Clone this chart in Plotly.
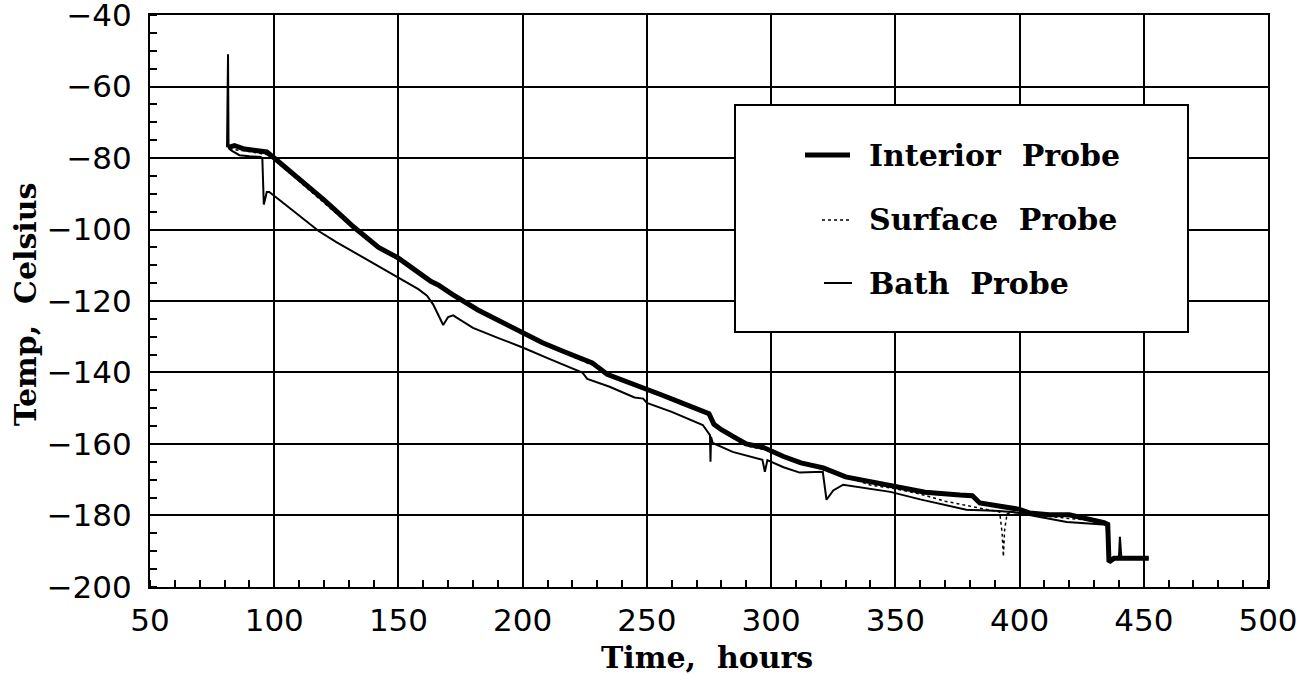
import plotly.graph_objects as go

# ---- data ----
interior_x = [81.5, 84, 88, 93, 97, 100, 106, 113, 120, 126, 132, 142, 150, 157, 163, 166, 169, 172,
              182, 191, 198, 200, 208, 216, 226, 228, 234, 242, 248, 256, 264, 271, 275, 277, 280,
              285, 290, 297, 305, 312, 321, 330, 340, 350, 362, 376, 381, 384, 390, 396, 400, 404,
              412, 420, 428, 434, 435.5, 436, 438, 452]
interior_y = [-77, -76.5, -77.5, -78, -78.3, -80, -83.4, -87.5, -91.7, -95.5, -99.3, -105, -108,
              -111.5, -114.5, -115.5, -117, -118.3, -122.5, -125.8, -128.3, -129, -131.7, -134,
              -137, -137.3, -140.5, -142.5, -144.3, -146.3, -148.5, -150.5, -151.5, -154.5, -156,
              -158, -160, -161, -163.5, -165.3, -166.7, -169.2, -170.5, -171.7, -173.5, -174.3,
              -174.5, -176.5, -177.3, -177.8, -178.3, -179.3, -179.8, -179.8, -181, -182, -182.5,
              -193, -192, -192]

surface_x = [82, 88, 97, 100, 110, 120, 130, 140, 150, 160, 170, 180, 190, 200, 210, 220, 230, 240,
             250, 260, 270, 275, 278, 285, 290, 300, 310, 320, 330, 340, 350, 360, 370, 380, 388,
             392, 393, 393.5, 394, 395, 397, 405, 415, 420, 425, 430, 435, 436, 438, 452]
surface_y = [-77.5, -78, -79, -80.5, -86.5, -92.5, -98.5, -104, -108.5, -113, -117.5, -121.5,
             -125.5, -129, -132.5, -135.5, -138.5, -142, -144.8, -147.3, -150.2, -152, -155,
             -158.5, -160.5, -162, -164.5, -167, -169.2, -171.5, -172.5, -174, -176, -177.5,
             -178.5, -179, -185, -191.5, -184, -179.5, -179, -179.8, -180.5, -181, -181.3, -181.5,
             -182.3, -193, -192, -192]

bath_x = [81, 81.4, 81.6, 82, 83, 86, 90, 94.5, 95.2, 95.8, 97, 98, 102, 110, 118, 125, 135, 150,
          158, 161.5, 164, 168, 170, 172, 180, 190, 200, 210, 220, 224, 226, 235, 245, 248.5, 250,
          260, 272.5, 275.4, 275.6, 275.8, 276.5, 284.5, 296.5, 297.5, 298.5, 305, 311.5, 320.8,
          322.3, 325, 329, 340, 348, 360, 370, 378.6, 390, 397, 405, 419, 435, 436, 437, 440,
          440.4, 440.8, 441, 452]
bath_y = [-77, -51, -77, -77.5, -78, -79.2, -79.5, -79.7, -80, -93, -89.5, -89.5, -91.7, -96,
          -100.5, -103.5, -107.5, -113.5, -116.7, -118.5, -121, -126.7, -124.5, -124, -127.5,
          -130.3, -133, -136, -139, -140, -141.8, -144, -147, -147.3, -148.5, -151, -154.7,
          -157.5, -165, -158, -159.7, -162.2, -164.4, -167.8, -164.5, -166.5, -168, -167.8,
          -175.6, -173, -171.4, -172.5, -173.4, -175.5, -177, -178.4, -178.7, -179, -180, -181.8,
          -182.6, -192.5, -192, -192, -186, -192, -192, -192]

legend_names = ["Interior Probe", "Surface Probe", "Bath Probe"]
x_title = "Time,  hours"
y_title = "Temp,  Celsius"
x_ticks = [50, 100, 150, 200, 250, 300, 350, 400, 450, 500]
y_ticks = [-40, -60, -80, -100, -120, -140, -160, -180, -200]

fig = go.Figure()
fig.add_trace(go.Scatter(x=bath_x, y=bath_y, mode="lines", name=legend_names[2],
                         line=dict(color="black", width=2)))
fig.add_trace(go.Scatter(x=surface_x, y=surface_y, mode="lines", name=legend_names[1],
                         line=dict(color="black", width=1.5, dash="dot")))
fig.add_trace(go.Scatter(x=interior_x, y=interior_y, mode="lines", name=legend_names[0],
                         line=dict(color="black", width=5)))

tick_font = dict(family="DejaVu Sans", size=31, color="black")
title_font = dict(family="DejaVu Serif", size=30, color="black")

fig.update_layout(
    width=1306, height=675,
    margin=dict(l=150, r=38, t=15, b=88),
    paper_bgcolor="white", plot_bgcolor="white",
    showlegend=False,
    xaxis=dict(range=[49.99, 500.01], tickvals=x_ticks, ticktext=[str(v) for v in x_ticks],
               ticks="", tickfont=tick_font, ticklabeloverflow="allow", automargin=False,
               showgrid=True, gridcolor="black", gridwidth=2,
               showline=True, linecolor="black", linewidth=2, mirror=True,
               zeroline=False, ticklabelstandoff=5,
               minor=dict(dtick=10, ticks="inside", ticklen=7, tickwidth=1.5,
                          tickcolor="black", showgrid=False)),
    yaxis=dict(range=[-200.01, -39.99], tickvals=y_ticks,
               ticktext=["\u2212" + str(-v) for v in y_ticks],
               ticks="", tickfont=tick_font, ticklabeloverflow="allow", automargin=False,
               showgrid=True, gridcolor="black", gridwidth=2,
               showline=True, linecolor="black", linewidth=2, mirror=True,
               zeroline=False, ticklabelstandoff=10,
               minor=dict(dtick=5, ticks="inside", ticklen=7, tickwidth=1.5,
                          tickcolor="black", showgrid=False)),
)

# paper-coordinate helpers
W, H = 1306 - 150 - 38, 675 - 15 - 88
def px(x):
    return (x - 150) / W
def py(y):
    return 1 - (y - 15) / H

# axis titles
fig.add_annotation(xref="paper", yref="paper", x=px(707), y=py(657), xanchor="center", yanchor="middle",
                   text="<b>" + x_title + "</b>", showarrow=False, font=title_font)
fig.add_annotation(xref="paper", yref="paper", x=px(25), y=py(305), xanchor="center", yanchor="middle",
                   text="<b>" + y_title + "</b>", showarrow=False, font=title_font, textangle=-90)

# legend box
fig.add_shape(type="rect", xref="paper", yref="paper", x0=px(735), x1=px(1188), y0=py(332), y1=py(105),
              line=dict(color="black", width=2), fillcolor="white", layer="above")
rows = [155, 220, 283]
styles = [(805, 850, 5, "solid"), (822, 850, 1.5, "dot"), (824, 852, 2, "solid")]
for name, yy, (a, b, w, d) in zip(legend_names, rows, styles):
    fig.add_shape(type="line", xref="paper", yref="paper", x0=px(a), x1=px(b), y0=py(yy), y1=py(yy),
                  line=dict(color="black", width=w, dash=d), layer="above")
    fig.add_annotation(xref="paper", yref="paper", x=px(867), y=py(yy), xanchor="left", yanchor="middle",
                       text="<b>" + name.replace(" ", "  ") + "</b>", showarrow=False,
                       font=dict(family="DejaVu Serif", size=30, color="black"))

fig.write_html("out.html")
